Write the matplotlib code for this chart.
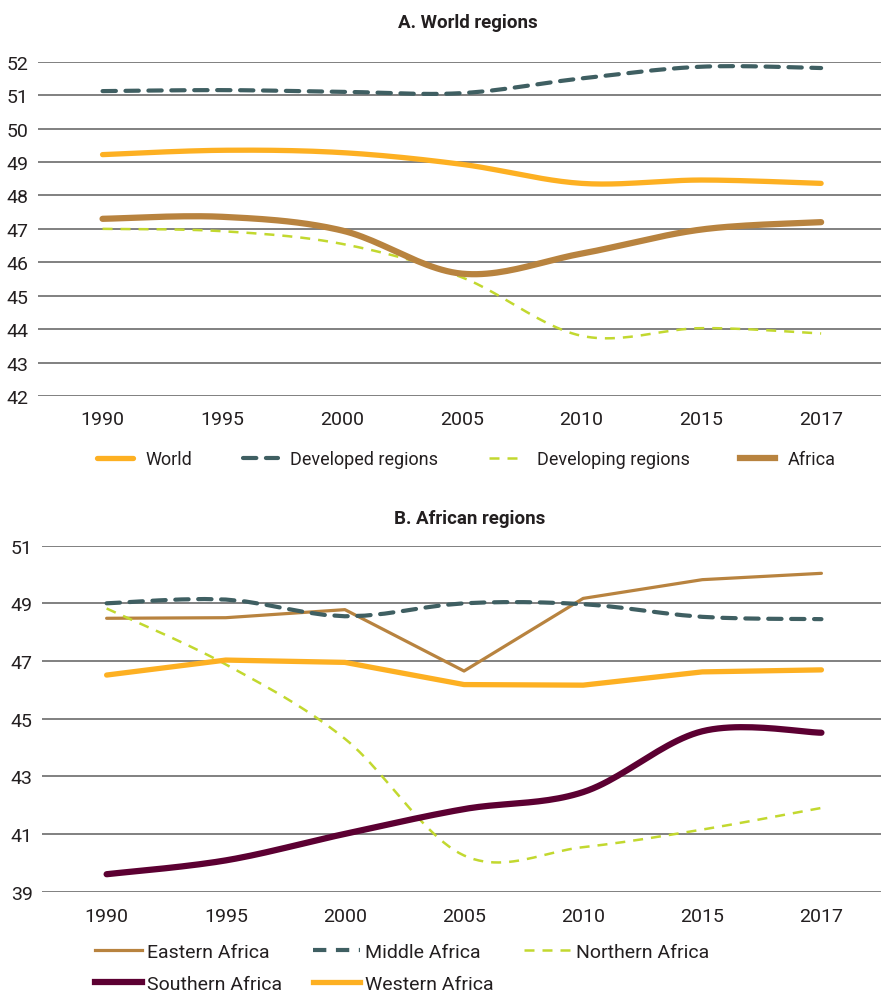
"""
Sex ratio style chart: two stacked panels, world regions and African regions.
"""

import numpy as np
import matplotlib
matplotlib.use("Agg")
import matplotlib.pyplot as plt
from matplotlib.lines import Line2D

plt.rcParams["font.family"] = ["Roboto", "Liberation Sans", "DejaVu Sans"]

YEARS = ["1990", "1995", "2000", "2005", "2010", "2015", "2017"]

# Panel A: world regions
WORLD = [49.22, 49.35, 49.28, 48.93, 48.36, 48.46, 48.36]
DEVELOPED = [51.12, 51.15, 51.10, 51.06, 51.50, 51.85, 51.81]
DEVELOPING = [47.00, 46.93, 46.55, 45.55, 43.80, 44.03, 43.87]
AFRICA = [47.30, 47.36, 46.95, 45.66, 46.26, 46.98, 47.20]

# Panel B: African regions
EASTERN = [48.48, 48.50, 48.78, 46.65, 49.17, 49.82, 50.04]
MIDDLE = [49.00, 49.13, 48.55, 49.00, 48.97, 48.53, 48.45]
NORTHERN = [48.82, 46.88, 44.30, 40.25, 40.54, 41.15, 41.90]
SOUTHERN = [39.60, 40.08, 41.00, 41.86, 42.45, 44.56, 44.51]
WESTERN = [46.51, 47.03, 46.95, 46.18, 46.16, 46.62, 46.69]

ORANGE = "#FDB022"
SLATE = "#3F5F62"
LIME = "#C2D82F"
BROWN = "#B8833F"
MAROON = "#5C0032"
GRID = "#5e5e5e"
TEXT = "#231f20"


def smooth(y, steps=24):
    """Catmull-Rom curve through the points (same idea as spreadsheet 'smoothed line')."""
    x = np.arange(len(y), dtype=float)
    y = np.asarray(y, dtype=float)
    px = np.concatenate([[x[0]], x, [x[-1]]])
    py = np.concatenate([[y[0]], y, [y[-1]]])
    xs, ys = [], []
    t = np.linspace(0, 1, steps, endpoint=False)
    for i in range(1, len(px) - 2):
        for arr, out in ((px, xs), (py, ys)):
            p0, p1, p2, p3 = arr[i - 1], arr[i], arr[i + 1], arr[i + 2]
            out.append(0.5 * ((2 * p1) + (-p0 + p2) * t
                              + (2 * p0 - 5 * p1 + 4 * p2 - p3) * t ** 2
                              + (-p0 + 3 * p1 - 3 * p2 + p3) * t ** 3))
    xs.append([x[-1]])
    ys.append([y[-1]])
    return np.concatenate(xs), np.concatenate(ys)


def style_axis(ax, yticks, ylim, title, title_pad, xpad):
    ax.set_xlim(-0.54, 6.5)
    ax.set_ylim(*ylim)
    ax.set_yticks(yticks)
    ax.set_xticks(range(len(YEARS)))
    ax.set_xticklabels(YEARS)
    for s in ax.spines.values():
        s.set_visible(False)
    ax.yaxis.grid(True, color=GRID, linewidth=1.1)
    ax.set_axisbelow(True)
    ax.tick_params(axis="x", length=0, labelsize=14, colors=TEXT, pad=xpad)
    ax.tick_params(axis="y", length=0, labelsize=14, colors=TEXT, pad=7)
    ax.set_title(title, fontsize=13.5, fontweight="bold", color=TEXT, pad=title_pad, x=0.51)


fig = plt.figure(figsize=(8.81, 9.95), dpi=100)

# ---- Panel A ----
ax1 = fig.add_axes([0.043, 0.601, 0.957, 0.336])
style_axis(ax1, range(42, 53), (42, 52), "A. World regions", 25, 10)
round_cap = dict(solid_capstyle="round", dash_capstyle="round")
ax1.plot(*smooth(WORLD), color=ORANGE, lw=3.8, **round_cap)
ax1.plot(*smooth(DEVELOPED), color=SLATE, lw=3.0, dashes=(3.2, 2.3), **round_cap)
ax1.plot(*smooth(DEVELOPING), color=LIME, lw=1.8, dashes=(4, 3.2))
ax1.plot(*smooth(AFRICA), color=BROWN, lw=4.5, **round_cap)

handles_a = [
    Line2D([], [], color=ORANGE, lw=3.8, solid_capstyle="round"),
    Line2D([], [], color=SLATE, lw=3.0, dashes=(3.2, 2.3), dash_capstyle="round"),
    Line2D([], [], color=LIME, lw=1.8, dashes=(4, 3.2)),
    Line2D([], [], color=BROWN, lw=4.5),
]
ax1.legend(handles_a, ["World", "Developed regions", "Developing regions", "Africa"],
           loc="upper left", bbox_to_anchor=(0.062, -0.14), ncol=4, frameon=False,
           fontsize=13, handlelength=1.95, handletextpad=0.7, columnspacing=2.8,
           labelcolor=TEXT, borderaxespad=0)

# ---- Panel B ----
ax2 = fig.add_axes([0.048, 0.103, 0.952, 0.3476])
style_axis(ax2, range(39, 52, 2), (39, 51), "B. African regions", 16, 11)
ax2.plot(range(len(YEARS)), EASTERN, color=BROWN, lw=2.3, solid_capstyle="round")
ax2.plot(*smooth(MIDDLE, steps=6), color=SLATE, lw=3.0, dashes=(3.2, 2.3), **round_cap)
ax2.plot(*smooth(NORTHERN), color=LIME, lw=1.8, dashes=(4, 3.2))
ax2.plot(*smooth(SOUTHERN), color=MAROON, lw=4.5, **round_cap)
ax2.plot(range(len(YEARS)), WESTERN, color=ORANGE, lw=3.8, solid_capstyle="round")

h_east = Line2D([], [], color=BROWN, lw=2.3)
h_mid = Line2D([], [], color=SLATE, lw=3.0, dashes=(3.2, 2.3))
h_north = Line2D([], [], color=LIME, lw=1.8, dashes=(4, 3.2))
h_south = Line2D([], [], color=MAROON, lw=4.5)
h_west = Line2D([], [], color=ORANGE, lw=3.8)
# reordered so that matplotlib's column-first fill reads row by row
ax2.legend([h_east, h_south, h_mid, h_west, h_north],
           ["Eastern Africa", "Southern Africa", "Middle Africa", "Western Africa",
            "Northern Africa"],
           loc="upper left", bbox_to_anchor=(0.054, -0.125), ncol=3, frameon=False,
           fontsize=14, handlelength=2.4, handletextpad=0.25, columnspacing=1.6,
           labelspacing=0.75, labelcolor=TEXT, borderaxespad=0)

fig.savefig("out.png", dpi=100)
